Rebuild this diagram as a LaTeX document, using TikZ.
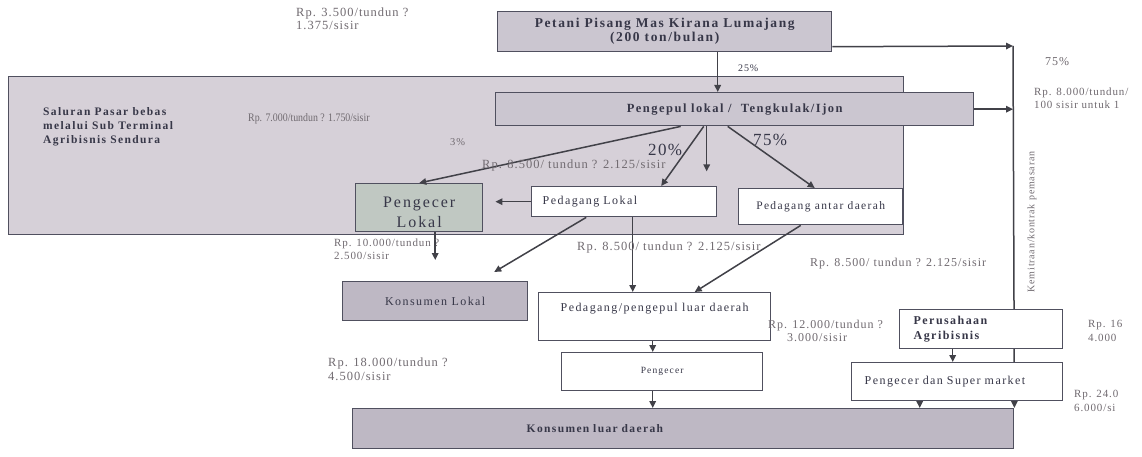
\documentclass[tikz,border=0pt]{standalone}
\usepackage{fontspec}
\setmainfont{Liberation Serif}
\newfontfamily\boxfont[LetterSpace=12]{Liberation Serif}
\newfontfamily\lblfont[LetterSpace=8]{Liberation Serif}
\newfontfamily\narrowfont[FakeStretch=0.86]{Liberation Serif}
\usetikzlibrary{arrows.meta,calc}
\definecolor{edgec}{RGB}{80,80,95}
\definecolor{arrc}{RGB}{65,65,72}
\definecolor{bgfill}{RGB}{214,208,216}
\definecolor{gfill}{RGB}{203,198,208}
\definecolor{dfill}{RGB}{190,184,196}
\definecolor{grfill}{RGB}{192,200,194}
\definecolor{boxtxt}{RGB}{55,55,72}
\definecolor{lbltxt}{RGB}{112,106,112}
\tikzset{
  box/.style={draw=edgec, line width=1.4pt, inner sep=0pt, anchor=north west, align=center, text=boxtxt},
  wbox/.style={box, fill=white},
  arr/.style={draw=arrc, line width=1.5pt, -{Triangle[length=7pt,width=6.5pt]}},
  lbl/.style={inner sep=0pt, anchor=base west, align=left, text=lbltxt},
}
\newcommand\fsz[2]{\fontsize{#1}{#2}\selectfont}
\begin{document}
\begin{tikzpicture}[x=1pt,y=-1pt]
\useasboundingbox (0,0) rectangle (1142,457);
\fill[white] (0,0) rectangle (1142,457);

% background region
\node[box, fill=bgfill, minimum width=895, minimum height=158] (pasar) at (8,76) {};

% boxes
\node[box, fill=gfill, minimum width=334, minimum height=40, font=\boxfont\bfseries\fsz{13.5}{14}] (petani) at (497,11) {Petani Pisang Mas Kirana Lumajang\\(200 ton/bulan)};
\node[box, fill=gfill, minimum width=478, minimum height=33, font=\boxfont\bfseries\fsz{12.5}{14}] (pengepul) at (495,92) {Pengepul lokal /\ \ Tengkulak/Ijon};
\node[box, fill=grfill, minimum width=127, minimum height=48,
      label={[align=center, text=boxtxt, inner sep=0pt, yshift=-5pt, font=\boxfont\fsz{16}{20}]center:{Pengecer\\Lokal}}] (pengecerlokal) at (355,183) {};
\node[wbox, minimum height=30, text width=163, inner xsep=11pt, align=left, font=\boxfont\fsz{12}{14}] (pedlokal) at (531,186) {Pedagang Lokal};
\node[wbox, minimum width=164, minimum height=36, font=\boxfont\fsz{11.5}{13}] (antar) at (738,188) {Pedagang antar daerah};
\node[box, fill=dfill, minimum width=185, minimum height=39, font=\boxfont\fsz{12}{14}] (konlokal) at (342,281) {Konsumen Lokal};
\node[wbox, minimum width=232, minimum height=48, font=\boxfont\fsz{12}{14}] (pedluar) at (538,292) {Pedagang/pengepul luar daerah\\[4pt]\mbox{}};
\node[wbox, minimum width=201, minimum height=38, font=\boxfont\fsz{9.5}{11}] (pengecer) at (561,352) {Pengecer};
\node[box, fill=dfill, minimum height=40, text width=661, inner xsep=0pt, align=left, font=\boxfont\bfseries\fsz{11.5}{13}] (konluar) at (352,408) {\hspace*{174pt}Konsumen luar daerah};

% vertical contract line
\coordinate (vtop) at (1013,46);
\draw[arr] ([yshift=-15pt]petani.east) -- (vtop);
\draw[arr] (vtop) -- (konluar.north east);
\draw[arr] (pengepul.east) -- (pengepul.east -| vtop);

\node[wbox, minimum height=39, text width=135, inner xsep=14pt, align=left, font=\boxfont\bfseries\fsz{12}{15}] (perusahaan) at (899,309) {Perusahaan\\Agribisnis};
\node[wbox, minimum height=38, text width=197, inner xsep=7pt, align=left, font=\boxfont\fsz{12}{14}] (super) at (851,362) {\hspace*{6pt}Pengecer dan Super market};

% arrows
\draw[arr] ([xshift=53pt]petani.south) -- ([xshift=53pt]petani.south |- pengepul.north);
\draw[arr] ([xshift=-54pt]pengepul.south) -- (pengecerlokal.north);
\draw[arr] ([xshift=-31pt]pengepul.south) -- ([xshift=37pt]pedlokal.north);
\draw[arr] ([xshift=-28pt]pengepul.south) -- ([xshift=-28pt,yshift=-45pt]pengepul.south);
\draw[arr] ([xshift=-7pt]pengepul.south) -- ([xshift=-6pt]antar.north);
\draw[arr, shorten >=12pt] (pedlokal.west) -- (pedlokal.west -| pengecerlokal.east);
\draw[arr, shorten >=21pt] (pengecerlokal.south -| konlokal.north) -- (konlokal.north);
\draw[arr] ([xshift=-38pt]pedlokal.south) -- ([xshift=59pt,yshift=9pt]konlokal.north);
\draw[arr] ([xshift=8.5pt]pedlokal.south) -- ([xshift=8.5pt]pedlokal.south |- pedluar.north);
\draw[arr] ([xshift=-20pt]antar.south) -- ([xshift=40pt]pedluar.north);
\draw[arr] ([xshift=-2pt]pedluar.south) -- ([xshift=-2pt]pedluar.south |- pengecer.north);
\draw[arr] ([xshift=-9.5pt]pengecer.south) -- ([xshift=-9.5pt]pengecer.south |- konluar.north);
\draw[arr] ([xshift=-28.5pt]perusahaan.south) -- ([xshift=-28.5pt]perusahaan.south |- super.north);
\draw[arr] ([xshift=-37.5pt]super.south) -- ([xshift=-37.5pt]super.south |- konluar.north);

% labels (base = baseline of last line)
\node[lbl, text=boxtxt, font=\boxfont\bfseries\fsz{11.5}{14}] (saluran) at (43,144) {Saluran Pasar bebas\\melalui Sub Terminal\\Agribisnis Sendura};
\node[lbl, font=\lblfont\fsz{12.5}{13}] (p3500) at (296,30) {Rp. 3.500/tundun ?\\1.375/sisir};
\node[lbl, text=boxtxt, font=\lblfont\fsz{10}{12}] (pct25) at (738,72) {25\%};
\node[lbl, font=\lblfont\fsz{12}{13}] (pct75a) at (1045,66) {75\%};
\node[lbl, font=\lblfont\fsz{11}{13}] (p8000) at (1034,109) {Rp. 8.000/tundun/\\100 sisir untuk 1};
\node[lbl, font=\narrowfont\fsz{11.5}{13}] (p7000) at (248,122) {Rp. 7.000/tundun ? 1.750/sisir};
\node[lbl, font=\lblfont\fsz{10.5}{12}] (pct3) at (450,146) {3\%};
\node[lbl, font=\lblfont\fsz{12.5}{14}] (p8500a) at (482,169) {Rp. 8.500/ tundun ? 2.125/sisir};
\node[lbl, text=boxtxt, font=\lblfont\fsz{17}{19}] (pct20) at (648,156) {20\%};
\node[lbl, text=boxtxt, font=\lblfont\fsz{17}{19}] (pct75b) at (753,146) {75\%};
\node[lbl, font=\lblfont\fsz{11}{13}] (p10000) at (334,259) {Rp. 10.000/tundun ?\\2.500/sisir};
\node[lbl, font=\lblfont\fsz{12.5}{14}] (p8500b) at (577,250) {Rp. 8.500/ tundun ? 2.125/sisir};
\node[lbl, font=\lblfont\fsz{12}{14}] (p8500c) at (810,266) {Rp. 8.500/ tundun ? 2.125/sisir};
\node[lbl, font=\lblfont\fsz{12}{13}] (p12000) at (768,341) {Rp. 12.000/tundun ?\\\hspace*{19pt}3.000/sisir};
\node[lbl, font=\lblfont\fsz{12.5}{14}] (p18000) at (328,380) {Rp. 18.000/tundun ?\\4.500/sisir};
\node[lbl, font=\lblfont\fsz{11}{14}] (p16) at (1088,341) {Rp. 16\\4.000};
\node[lbl, font=\lblfont\fsz{11}{14}] (p24) at (1074,411) {Rp. 24.0\\6.000/si};
\node[inner sep=0pt, rotate=90, text=lbltxt, font=\lblfont\fsz{10}{12}] (kemitraan) at (1032,222) {Kemitraan/kontrak pemasaran};
\end{tikzpicture}
\end{document}
